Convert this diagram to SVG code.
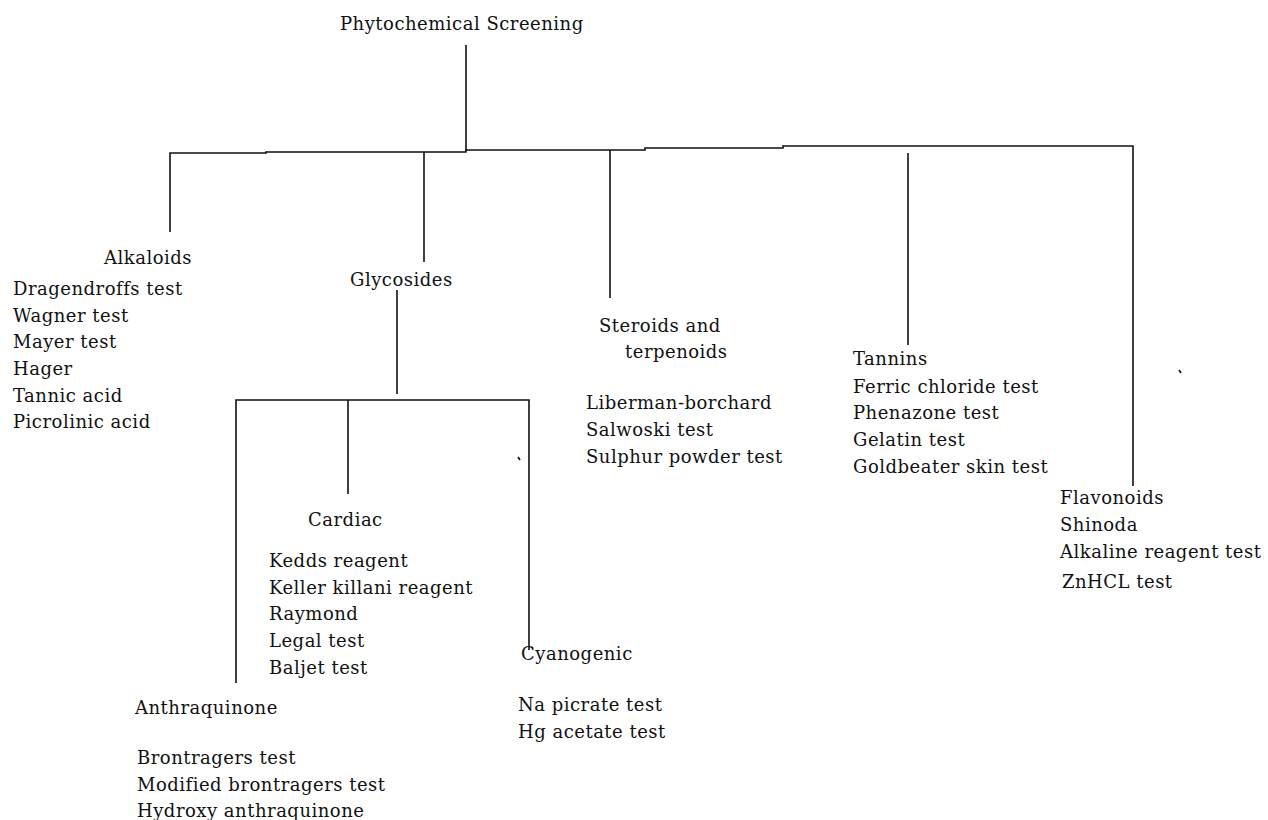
<svg xmlns="http://www.w3.org/2000/svg" width="1268" height="820" viewBox="0 0 1268 820">
<style>
text{font-family:"DejaVu Serif","Liberation Serif",serif;font-size:18px;letter-spacing:0.5px;fill:#111}
.c{fill:none;stroke:#111;stroke-width:1.6}
</style>
<rect width="1268" height="820" fill="#fff"/>
<g id="connectors">
<path class="c" d="M466 45V151"/>
<path class="c" d="M170 232V153H266V152H466V150H645V148H783V146H1133V486"/>
<path class="c" d="M424 152V262"/>
<path class="c" d="M610 150V298"/>
<path class="c" d="M908 153V345"/>
<path class="c" d="M397 290V394"/>
<path class="c" d="M236 683V400H529V650"/>
<path class="c" d="M348 400V494"/>
<path class="c" d="M518 457l2 3" stroke-width="1.2"/>
<path class="c" d="M1179 370l2 3" stroke-width="1.2"/>
</g>
<g id="root"><text x="340" y="30">Phytochemical Screening</text></g>
<g id="alkaloids">
<text x="104" y="264">Alkaloids</text>
<text x="13" y="295">Dragendroffs test</text>
<text x="13" y="322">Wagner test</text>
<text x="13" y="348">Mayer test</text>
<text x="13" y="375">Hager</text>
<text x="13" y="402">Tannic acid</text>
<text x="13" y="428">Picrolinic acid</text>
</g>
<g id="glycosides"><text x="350" y="286">Glycosides</text></g>
<g id="steroids">
<text x="599" y="332">Steroids and</text>
<text x="625" y="358">terpenoids</text>
<text x="586" y="409">Liberman-borchard</text>
<text x="586" y="436">Salwoski test</text>
<text x="586" y="463">Sulphur powder test</text>
</g>
<g id="tannins">
<text x="853" y="365">Tannins</text>
<text x="853" y="393">Ferric chloride test</text>
<text x="853" y="419">Phenazone test</text>
<text x="853" y="446">Gelatin test</text>
<text x="853" y="473">Goldbeater skin test</text>
</g>
<g id="flavonoids">
<text x="1060" y="504">Flavonoids</text>
<text x="1060" y="531">Shinoda</text>
<text x="1060" y="558">Alkaline reagent test</text>
<text x="1062" y="588">ZnHCL test</text>
</g>
<g id="cardiac">
<text x="308" y="526">Cardiac</text>
<text x="269" y="567">Kedds reagent</text>
<text x="269" y="594">Keller killani reagent</text>
<text x="269" y="620">Raymond</text>
<text x="269" y="647">Legal test</text>
<text x="269" y="674">Baljet test</text>
</g>
<g id="cyanogenic">
<text x="521" y="660">Cyanogenic</text>
<text x="518" y="711">Na picrate test</text>
<text x="518" y="738">Hg acetate test</text>
</g>
<g id="anthraquinone">
<text x="135" y="714">Anthraquinone</text>
<text x="137" y="764">Brontragers test</text>
<text x="137" y="791">Modified brontragers test</text>
<text x="137" y="817">Hydroxy anthraquinone</text>
</g>
</svg>
